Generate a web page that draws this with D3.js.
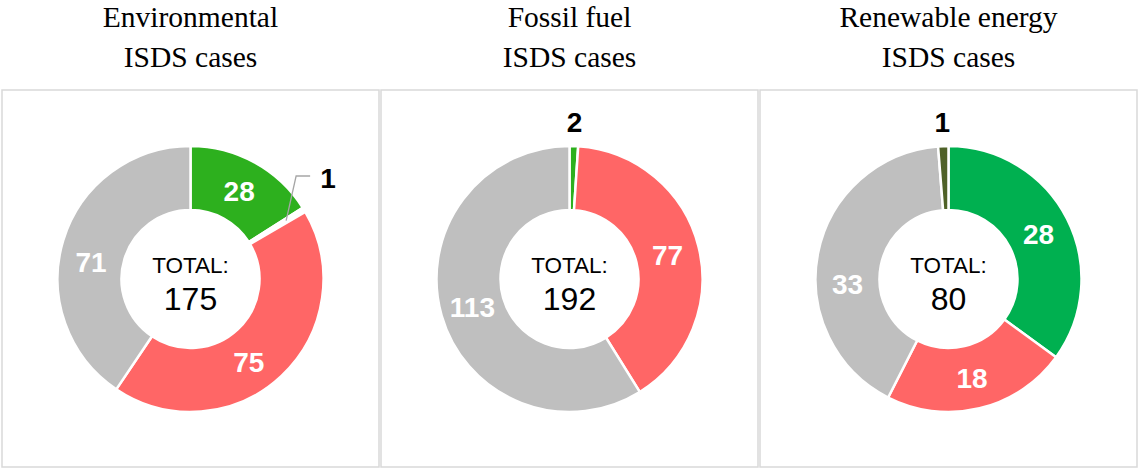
<!DOCTYPE html>
<html>
<head>
<meta charset="UTF-8">
<script src="https://d3js.org/d3.v7.min.js"></script>
<style>
    body { margin: 0; background: white; }
    .panel { fill: none; stroke: #d9d9d9; stroke-width: 1.5px; }
    .title { font-family: "Liberation Serif", "Times New Roman", serif; font-size: 29.5px; fill: #000; }
    .slice { stroke: white; stroke-width: 2.5px; }
    .inLabel { font-family: "Liberation Sans", Arial, sans-serif; font-weight: bold; font-size: 28px; fill: white; }
    .outLabel { font-family: "Liberation Sans", Arial, sans-serif; font-weight: bold; font-size: 28px; fill: #000; }
    .totalLbl { font-family: "Liberation Sans", Arial, sans-serif; font-size: 22.5px; fill: #000; }
    .totalNum { font-family: "Liberation Sans", Arial, sans-serif; font-size: 32px; fill: #000; }
    .leader { fill: none; stroke: #a6a6a6; stroke-width: 1.3px; }
</style>
</head>
<body>
<svg id="chart" width="1139" height="469"></svg>
<script>
// chart data
const titles = [["Environmental", "ISDS cases"], ["Fossil fuel", "ISDS cases"], ["Renewable energy", "ISDS cases"]];
const envValues = [28, 1, 75, 71];
const envColors = ["#2db01e", "#ffffff", "#ff6666", "#bfbfbf"];
const fossilValues = [2, 77, 113];
const fossilColors = ["#2db01e", "#ff6666", "#bfbfbf"];
const renewValues = [28, 18, 33, 1];
const renewColors = ["#00b050", "#ff6666", "#bfbfbf", "#4f6228"];

const charts = [
    {values: envValues, colors: envColors},
    {values: fossilValues, colors: fossilColors},
    {values: renewValues, colors: renewColors}
];

// layout
const svg = d3.select("#chart");
const panelX = [2, 381, 760];
const panelW = 377, panelTop = 90, panelH = 377;
const outerR = 133, innerR = 69;
const cy = 279;
// labels Excel had dragged off their centroid (chart, slice) -> angle shift in degrees
const labelNudge = {"0-2": 8, "0-3": -7, "2-2": -14};

const pie = d3.pie().sort(null).value(d => d);
const arc = d3.arc().innerRadius(innerR).outerRadius(outerR);
const labelArc = d3.arc().innerRadius(101).outerRadius(101);

charts.forEach((c, ci) => {
    const cx = panelX[ci] + panelW / 2;

    svg.append("rect")
        .attr("class", "panel")
        .attr("x", panelX[ci])
        .attr("y", panelTop)
        .attr("width", panelW)
        .attr("height", panelH);

    svg.append("text")
        .attr("class", "title")
        .attr("text-anchor", "middle")
        .attr("x", cx)
        .attr("y", 27)
        .text(titles[ci][0]);
    svg.append("text")
        .attr("class", "title")
        .attr("text-anchor", "middle")
        .attr("x", cx)
        .attr("y", 67)
        .text(titles[ci][1]);

    const g = svg.append("g").attr("transform", `translate(${cx},${cy})`);
    const arcs = pie(c.values);

    g.selectAll("path")
        .data(arcs)
        .enter()
        .append("path")
        .attr("class", "slice")
        .attr("d", arc)
        .style("fill", (d, i) => c.colors[i]);

    arcs.forEach((d, i) => {
        const small = d.endAngle - d.startAngle < 0.1;
        if (!small) {
            const shift = (labelNudge[ci + "-" + i] || 0) * Math.PI / 180;
            const a = (d.startAngle + d.endAngle) / 2 + shift;
            const p = labelArc.centroid({startAngle: a, endAngle: a});
            g.append("text")
                .attr("class", "inLabel")
                .attr("text-anchor", "middle")
                .attr("dominant-baseline", "central")
                .attr("x", p[0])
                .attr("y", p[1] + 1)
                .text(d.value);
        } else {
            const a = (d.startAngle + d.endAngle) / 2;
            if (a > 0.5 && a < 1.5) {
                // callout with leader line to the right
                const p0 = d3.arc().innerRadius(112).outerRadius(112).centroid(d);
                const elbow = [p0[0] + 10, -103];
                g.append("path")
                    .attr("class", "leader")
                    .attr("d", d3.line()([p0, elbow, [elbow[0] + 14, elbow[1]]]));
                g.append("text")
                    .attr("class", "outLabel")
                    .attr("dominant-baseline", "central")
                    .attr("x", elbow[0] + 24)
                    .attr("y", elbow[1] + 2)
                    .text(d.value);
            } else {
                const p = d3.arc().innerRadius(157).outerRadius(157).centroid(d);
                g.append("text")
                    .attr("class", "outLabel")
                    .attr("text-anchor", "middle")
                    .attr("dominant-baseline", "central")
                    .attr("x", p[0])
                    .attr("y", p[1])
                    .text(d.value);
            }
        }
    });

    g.append("text")
        .attr("class", "totalLbl")
        .attr("text-anchor", "middle")
        .attr("y", -6)
        .text("TOTAL:");
    g.append("text")
        .attr("class", "totalNum")
        .attr("text-anchor", "middle")
        .attr("y", 31)
        .text(d3.sum(c.values));
});
</script>
</body>
</html>
